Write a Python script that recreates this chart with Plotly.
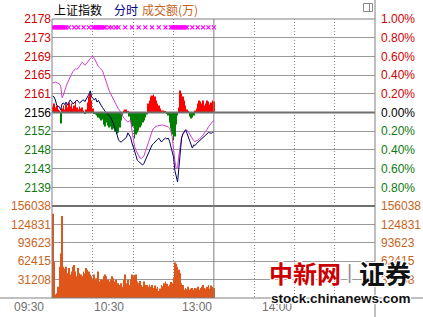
import plotly.graph_objects as go

# ---------------- data ----------------
prev_close = 2156.2
minutes = list(range(121))

price = [2160.0, 2159.8, 2159.1, 2157.9, 2157.6, 2157.5, 2156.8, 2158.2, 2158.4, 2158.0,
         2158.6, 2157.9, 2158.5, 2159.1, 2158.8, 2158.2, 2158.4, 2158.9, 2159.1, 2158.7,
         2158.4, 2158.6, 2159.0, 2159.1, 2158.7, 2159.3, 2159.8, 2160.4, 2161.2, 2159.8,
         2159.4, 2159.1, 2159.5, 2158.6, 2159.0, 2158.3, 2157.9, 2157.4, 2156.8, 2156.5,
         2156.1, 2155.9, 2155.5, 2155.2, 2154.6, 2153.8, 2153.0, 2152.2, 2151.0, 2149.9,
         2149.5, 2149.4, 2149.7, 2149.9, 2150.3, 2150.5, 2151.5, 2151.0, 2150.5, 2149.2,
         2148.0, 2147.3, 2146.3, 2145.2, 2144.9, 2144.6, 2144.3, 2144.1, 2144.5, 2145.2,
         2146.0, 2147.0, 2147.7, 2148.3, 2148.7, 2149.0, 2149.4, 2149.6, 2150.0, 2150.3,
         2149.8, 2149.4, 2149.8, 2150.1, 2150.3, 2150.1, 2150.3, 2149.6, 2148.5, 2147.4,
         2145.9, 2142.8, 2141.0, 2140.2, 2143.5, 2147.6, 2150.3, 2151.3, 2151.9, 2152.2,
         2151.4, 2150.5, 2149.6, 2148.4, 2148.0, 2148.7, 2148.6, 2149.0, 2149.3, 2149.6,
         2149.9, 2150.1, 2150.5, 2150.8, 2151.2, 2151.5, 2151.6, 2151.5, 2151.4, 2151.6,
         2151.7]

avg_line = [2163.0, 2163.1, 2163.2, 2163.1, 2163.0, 2162.8, 2162.3, 2159.6, 2160.2, 2161.4,
            2162.2, 2163.0, 2163.8, 2164.4, 2165.0, 2165.6, 2166.1, 2166.3, 2166.2, 2166.4,
            2166.9, 2167.4, 2167.8, 2167.5, 2167.1, 2167.4, 2167.9, 2168.3, 2168.7, 2169.0,
            2169.2, 2168.7, 2168.0, 2167.4, 2166.8, 2166.5, 2166.2, 2165.9, 2165.0, 2164.0,
            2163.0, 2162.0, 2161.3, 2160.6, 2160.0, 2159.3, 2158.6, 2157.9, 2157.3, 2157.0,
            2156.6, 2156.0, 2155.4, 2154.9, 2154.6, 2154.3, 2154.0, 2154.2, 2154.4, 2152.2,
            2149.6, 2148.3, 2147.5, 2146.8, 2146.2, 2145.7, 2145.6, 2145.8, 2146.2, 2147.2,
            2148.2, 2149.1, 2150.2, 2151.0, 2151.8, 2152.5, 2152.8, 2153.0, 2153.1, 2153.2,
            2153.3, 2153.3, 2153.3, 2153.2, 2153.2, 2153.1, 2152.9, 2152.6, 2151.9, 2150.6,
            2147.6, 2145.0, 2143.3, 2143.5, 2146.4, 2148.8, 2150.4, 2151.2, 2151.9, 2152.2,
            2152.1, 2151.8, 2151.2, 2150.6, 2150.0, 2149.7, 2149.5, 2149.6, 2149.8, 2150.0,
            2150.3, 2150.6, 2151.0, 2151.5, 2151.8, 2152.3, 2152.9, 2153.3, 2153.8, 2154.1,
            2154.3]

# market breadth indicator (red above / green below the previous close line)
breadth = [6, 9, 5, 7, 3, 2, -11, 4, 7, 3,
           8, 5, 10, 6, 9, 4, 7, 11, 5, 3,
           6, 4, 5, 2, -1, 3, 10, 16, 19, 12,
           4, -1, -2, -3, -5, -6, -8, -7, -12, -14,
           -10, -13, -15, -14, -17, -16, -19, -18, -21, -20,
           -15, -8, -3, 2, 3, 3, 1, -4, -10, -14,
           -14, -26, -22, -20, -18, -15, -13, -10, -8, -5,
           -2, 9, 12, 16, 17, 18, 16, 12, 9, 7,
           4, 2, 2, 1, 1, -1, -3, -10, -16, -22,
           -28, -24, -12, -3, 5, 22, 19, 16, 12, 7,
           3, 1, -4, -6, -5, -3, 2, 4, 9, 12,
           11, 9, 12, 7, 9, 12, 11, 8, 10, 12,
           11]
breadth_full_scale = 93.5   # breadth units equal to a 1% move

volume = [143000, 61000, 6000, 8000, 19000, 53000, 76000, 139000, 53000, 50000,
          53000, 42000, 51000, 40000, 45000, 53000, 56000, 45000, 37000, 51000,
          42000, 40000, 37000, 45000, 42000, 51000, 48000, 45000, 40000, 37000,
          31000, 40000, 33000, 33000, 45000, 28000, 31000, 31000, 37000, 40000,
          37000, 31000, 28000, 31000, 37000, 33000, 28000, 31000, 25000, 25000,
          22000, 25000, 19000, 31000, 40000, 25000, 31000, 22000, 31000, 40000,
          37000, 39000, 40000, 28000, 25000, 29000, 22000, 19000, 28000, 22000,
          22000, 19000, 23000, 19000, 22000, 17000, 21000, 16000, 19000, 12000,
          16000, 22000, 20000, 25000, 28000, 24000, 20000, 23000, 27000, 25000,
          35000, 60000, 58000, 53000, 48000, 42000, 25000, 22000, 14000, 17000,
          15000, 19000, 14000, 16000, 17000, 14000, 17000, 16000, 19000, 14000,
          17000, 19000, 22000, 17000, 16000, 19000, 22000, 16000, 21000, 19000,
          17000]

marker_minutes = (list(range(0, 11)) + [12, 16, 19, 23, 27] + list(range(30, 40)) +
                  [42, 44, 47, 49, 54, 59, 64, 69, 74, 79, 84, 88] + list(range(89, 101)) +
                  [104, 108, 112, 116, 120])
marker_level_pct = 0.91

pct_ticks = [1.0, 0.8, 0.6, 0.4, 0.2, 0.0, -0.2, -0.4, -0.6, -0.8]
price_tick_labels = ["2178", "2173", "2169", "2165", "2161", "2156", "2152", "2148", "2143", "2139"]
pct_tick_labels = ["1.00%", "0.80%", "0.60%", "0.40%", "0.20%", "0.00%", "0.20%", "0.40%", "0.60%", "0.80%"]
vol_max = 156038
vol_ticks = [31208, 62415, 93623, 124831, 156038]
vol_tick_labels = ["31208", "62415", "93623", "124831", "156038"]
time_labels = ["09:30", "10:30", "13:00", "14:00"]
time_label_minutes = [0, 60, 120, 180]
grid_minutes = [30, 60, 90, 150, 180, 210]
noon_minute = 120
session_minutes = 240

# ---------------- styling ----------------
RED = "#d00000"
GREEN = "#107a10"
BLACK = "#000000"
ORANGE = "#c8641e"
GRID = "#9a9a9a"
DARK = "#707070"
FONT = "Liberation Sans, Arial, sans-serif"
CJK = "Noto Sans CJK SC"

W, H = 423, 317
ML, MR, MT, MB = 52, 48, 19, 19
PW, PH = W - ML - MR, H - MT - MB
vol_frac = 92 / PH


def px_x(p):
    return (p - ML) / PW


def px_y(p):
    return (H - MB - p) / PH


def colored(label, pct):
    c = RED if pct > 0 else (BLACK if pct == 0 else GREEN)
    return f'<span style="color:{c}">{label}</span>'


price_tickvals = [prev_close * (1 + p / 100) for p in pct_ticks]
breadth_price = [b / breadth_full_scale * prev_close / 100 for b in breadth]
breadth_colors = ["#ff0000" if b > 0 else "#008000" for b in breadth]

fig = go.Figure()

fig.add_trace(go.Bar(x=minutes, y=breadth_price, base=prev_close, xaxis="x", yaxis="y",
                     marker=dict(color=breadth_colors, line=dict(width=0)), width=0.55))
fig.add_trace(go.Scatter(x=minutes, y=avg_line, mode="lines", xaxis="x", yaxis="y",
                         line=dict(color="#d23cd2", width=1)))
fig.add_trace(go.Scatter(x=minutes, y=price, mode="lines", xaxis="x", yaxis="y",
                         line=dict(color="#000060", width=1)))
fig.add_trace(go.Scatter(x=marker_minutes,
                         y=[prev_close * (1 + marker_level_pct / 100)] * len(marker_minutes),
                         mode="markers", xaxis="x", yaxis="y",
                         marker=dict(symbol="x-thin", size=4, line=dict(color="#ff00ff", width=1.2))))
fig.add_trace(go.Scatter(x=[0], y=[0], mode="markers", xaxis="x", yaxis="y2",
                         marker=dict(opacity=0)))
fig.add_trace(go.Bar(x=minutes, y=volume, xaxis="x", yaxis="y3",
                     marker=dict(color="#e0561a", line=dict(width=0)), width=0.55))
fig.add_trace(go.Scatter(x=[0], y=[0], mode="markers", xaxis="x", yaxis="y4",
                         marker=dict(opacity=0)))

tickfont = dict(family=FONT, size=12)

fig.update_layout(
    width=W, height=H,
    margin=dict(l=ML, r=MR, t=MT, b=MB, pad=0, autoexpand=False),
    paper_bgcolor="white", plot_bgcolor="white",
    showlegend=False, hovermode=False, barmode="overlay",
    xaxis=dict(range=[-0.5, session_minutes], anchor="y3", showticklabels=False, ticks="",
               tickvals=grid_minutes, showgrid=True, gridcolor="#888888", griddash="1px,2px",
               gridwidth=1, zeroline=False, showline=False, automargin=False),
    yaxis=dict(domain=[vol_frac, 1], range=[prev_close * 0.99, prev_close * 1.01],
               tickvals=price_tickvals,
               ticktext=[colored(l, p) for l, p in zip(price_tick_labels, pct_ticks)],
               showgrid=True, gridcolor=GRID, gridwidth=1, zeroline=False, ticks="",
               tickfont=tickfont, showline=False, automargin=False),
    yaxis2=dict(overlaying="y", side="right", range=[-1, 1], tickvals=pct_ticks,
                ticktext=[colored(l, p) for l, p in zip(pct_tick_labels, pct_ticks)],
                showgrid=False, zeroline=False, ticks="", tickfont=tickfont,
                ticklabelstandoff=5, automargin=False),
    yaxis3=dict(domain=[0, vol_frac], range=[0, vol_max], tickvals=vol_ticks,
                ticktext=vol_tick_labels, showgrid=True, gridcolor=GRID, gridwidth=1,
                zeroline=False, ticks="", tickfont=dict(family=FONT, size=12, color=ORANGE),
                automargin=False),
    yaxis4=dict(overlaying="y3", side="right", range=[0, vol_max], tickvals=vol_ticks,
                ticktext=vol_tick_labels, showgrid=False, zeroline=False, ticks="",
                tickfont=dict(family=FONT, size=12, color=ORANGE), ticklabelstandoff=5,
                automargin=False),
)

shapes = [
    # previous close line
    dict(type="line", xref="x domain", x0=0, x1=1, yref="y", y0=prev_close, y1=prev_close,
         line=dict(color=DARK, width=2)),
    # price / volume boundary
    dict(type="line", xref="x domain", x0=0, x1=1, yref="y3 domain", y0=1, y1=1,
         line=dict(color=DARK, width=2)),
    # bottom line across the full width
    dict(type="line", xref="paper", x0=px_x(0), x1=px_x(W), yref="y3 domain", y0=0, y1=0,
         line=dict(color="#808080", width=1)),
    # left border
    dict(type="line", xref="x domain", x0=0, x1=0, yref="paper", y0=0, y1=1,
         line=dict(color="#808080", width=1)),
    # right border through full height
    dict(type="line", xref="x domain", x0=1, x1=1, yref="paper", y0=px_y(H), y1=px_y(0),
         line=dict(color="#808080", width=1)),
    # top border
    dict(type="line", xref="x domain", x0=0, x1=1, yref="paper", y0=1, y1=1,
         line=dict(color="#808080", width=1)),
    # noon break
    dict(type="line", xref="x", x0=noon_minute, x1=noon_minute, yref="paper", y0=0, y1=1,
         line=dict(color="#808080", width=1)),
    # small window icon
    dict(type="rect", xref="paper", yref="paper", x0=px_x(363.5), x1=px_x(372.5),
         y0=px_y(11.5), y1=px_y(3.5), line=dict(color="#8a8a8a", width=1), fillcolor="white"),
    dict(type="line", xref="paper", yref="paper", x0=px_x(369.5), x1=px_x(369.5),
         y0=px_y(11.5), y1=px_y(3.5), line=dict(color="#8a8a8a", width=1)),
]
fig.update_layout(shapes=shapes)

ann = []
hdr_y = px_y(9.5)
ann.append(dict(text="上证指数", xref="paper", yref="paper", x=px_x(52), y=hdr_y,
                xanchor="left", yanchor="middle", showarrow=False,
                font=dict(family=CJK, size=12, color="#000000")))
ann.append(dict(text="分时", xref="paper", yref="paper", x=px_x(112), y=hdr_y,
                xanchor="left", yanchor="middle", showarrow=False,
                font=dict(family=CJK, size=12, color="#000080")))
ann.append(dict(text="成交额(万)", xref="paper", yref="paper", x=px_x(140), y=hdr_y,
                xanchor="left", yanchor="middle", showarrow=False,
                font=dict(family=CJK, size=12, color=ORANGE)))

for lbl, m in zip(time_labels, time_label_minutes):
    shift = -7 if m < noon_minute else 0
    ann.append(dict(text=lbl, xref="x", yref="paper", x=m, y=px_y(306.5), xanchor="right",
                    yanchor="middle", xshift=shift, showarrow=False,
                    font=dict(family=FONT, size=12, color="#707070")))

halo = "1px 1px 0 #fff, -1px -1px 0 #fff, 1px -1px 0 #fff, -1px 1px 0 #fff, 0 0 3px #fff"
ann.append(dict(text="<b>中新网</b>", xref="paper", yref="paper", x=px_x(267), y=px_y(272),
                xanchor="left", yanchor="middle", showarrow=False,
                font=dict(family="Noto Sans CJK TC", size=24, color="#cc0000", shadow=halo)))
ann.append(dict(text="|", xref="paper", yref="paper", x=px_x(349), y=px_y(272),
                xanchor="center", yanchor="middle", showarrow=False,
                font=dict(family=FONT, size=20, color="#909090", shadow=halo)))
ann.append(dict(text="<b>证券</b>", xref="paper", yref="paper", x=px_x(357), y=px_y(272),
                xanchor="left", yanchor="middle", showarrow=False,
                font=dict(family=CJK, size=26, color="#111111", shadow=halo)))
ann.append(dict(text="<b>stock.chinanews.com</b>", xref="paper", yref="paper", x=px_x(340.5),
                y=px_y(298.5), xanchor="center", yanchor="middle", showarrow=False,
                font=dict(family=FONT, size=13.5, color="#111111", shadow=halo)))
fig.update_layout(annotations=ann)

fig.write_html("out.html")
